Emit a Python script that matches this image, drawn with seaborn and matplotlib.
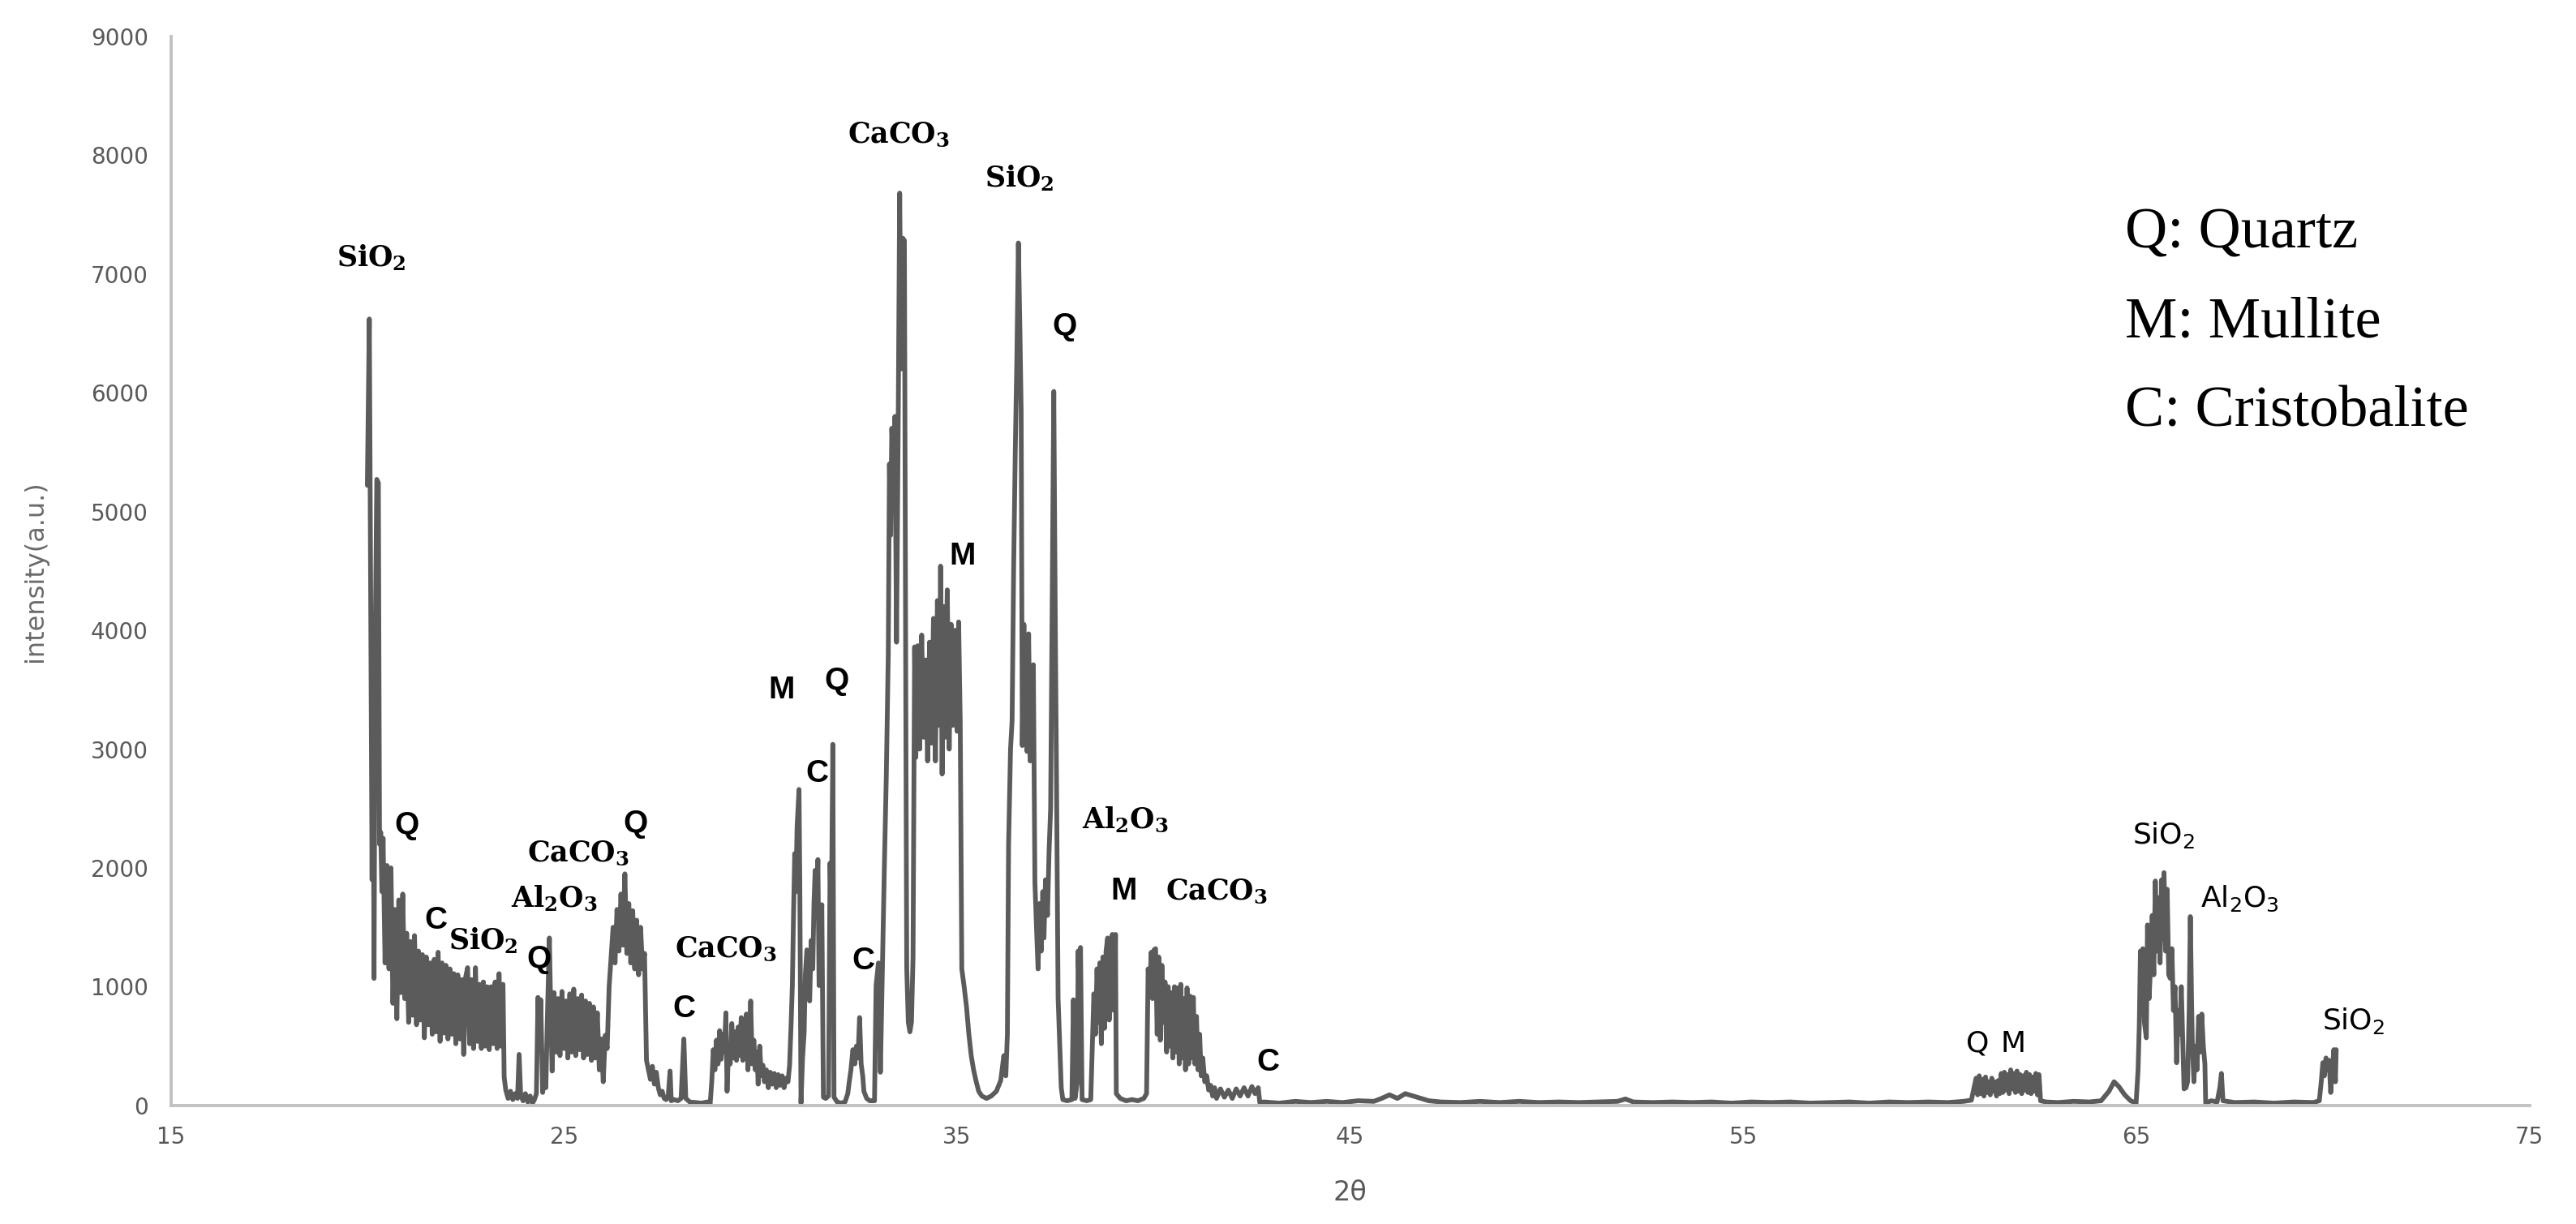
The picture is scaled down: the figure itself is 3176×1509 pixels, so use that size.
import matplotlib
matplotlib.use("Agg")
import numpy as np
import pandas as pd
import matplotlib.pyplot as plt
import seaborn as sns

# --------------------------
# data: (2theta, intensity)
# --------------------------
seg_peak20 = [(20.00, 5220), (20.05, 6620), (20.09, 4000), (20.12, 1900), (20.14, 3900), (20.17, 1070),
              (20.20, 3900), (20.24, 5270), (20.28, 5240), (20.31, 2200), (20.34, 2300), (20.37, 1800)]

seg_band21 = [(20.40, 2250), (20.45, 1200), (20.50, 2020), (20.55, 1150), (20.60, 2000), (20.65, 860),
              (20.70, 1650), (20.75, 730), (20.80, 1730), (20.85, 950), (20.90, 1780), (20.95, 900),
              (21.00, 1450), (21.05, 700), (21.10, 1380), (21.15, 760), (21.20, 1430), (21.25, 680),
              (21.30, 1300), (21.35, 720), (21.40, 1270), (21.45, 570), (21.50, 1250), (21.55, 680),
              (21.60, 1200), (21.65, 600), (21.70, 1230), (21.75, 620), (21.80, 1290), (21.85, 540),
              (21.90, 1200), (21.95, 610), (22.00, 1180), (22.05, 560), (22.10, 1150), (22.15, 600),
              (22.20, 1110), (22.25, 520), (22.30, 1100), (22.35, 560), (22.40, 1060), (22.45, 430),
              (22.50, 1080), (22.55, 1160), (22.60, 520), (22.65, 1060), (22.70, 480), (22.75, 1160),
              (22.80, 540), (22.85, 1020), (22.90, 480), (22.95, 1040), (23.00, 500), (23.05, 1000),
              (23.10, 470), (23.15, 1000), (23.20, 520), (23.25, 1040), (23.30, 480), (23.35, 1110),
              (23.40, 500), (23.45, 1020), (23.48, 240)]

seg_dip24 = [(23.52, 130), (23.58, 60), (23.64, 120), (23.70, 50), (23.76, 100), (23.82, 60), (23.86, 430),
             (23.90, 90), (23.96, 40), (24.02, 100), (24.08, 30), (24.14, 80), (24.20, 20), (24.25, 50),
             (24.30, 100), (24.34, 910), (24.38, 500), (24.41, 890), (24.46, 110), (24.50, 300),
             (24.54, 150), (24.58, 750), (24.63, 1410), (24.67, 700), (24.70, 290), (24.75, 950)]

seg_band25 = [(24.80, 450), (24.85, 900), (24.90, 420), (24.95, 960), (25.00, 480), (25.05, 880),
              (25.10, 400), (25.15, 940), (25.20, 450), (25.25, 980), (25.30, 420), (25.35, 900),
              (25.40, 470), (25.45, 930), (25.50, 400), (25.55, 880), (25.60, 430), (25.65, 860),
              (25.70, 380), (25.75, 830), (25.80, 400), (25.85, 780), (25.90, 300), (25.95, 560),
              (26.00, 200), (26.05, 590), (26.10, 480)]

seg_peak26 = [(26.15, 1000), (26.20, 1250), (26.25, 1500), (26.30, 1200), (26.35, 1650), (26.40, 1300),
              (26.45, 1780), (26.50, 1350), (26.55, 1950), (26.60, 1280), (26.65, 1700), (26.70, 1200),
              (26.75, 1640), (26.80, 1150), (26.85, 1560), (26.90, 1100), (26.95, 1500), (27.00, 1150),
              (27.05, 1280), (27.10, 380)]

seg_tail27 = [(27.15, 300), (27.20, 220), (27.25, 330), (27.30, 180), (27.35, 280), (27.40, 150),
              (27.45, 90), (27.50, 120), (27.55, 60), (27.60, 50), (27.65, 70), (27.70, 290), (27.73, 40),
              (27.80, 50), (27.90, 40), (27.98, 60), (28.05, 560), (28.10, 60), (28.20, 30), (28.35, 25),
              (28.50, 20), (28.65, 30), (28.72, 15)]

seg_band29 = [(28.76, 200), (28.80, 470), (28.84, 300), (28.88, 550), (28.92, 350), (28.96, 630),
              (29.00, 390), (29.04, 600), (29.08, 450), (29.12, 780), (29.15, 120), (29.19, 500),
              (29.23, 350), (29.27, 690), (29.31, 400), (29.35, 620), (29.39, 380), (29.43, 660),
              (29.47, 420), (29.51, 740), (29.55, 380), (29.59, 600), (29.64, 770), (29.68, 300),
              (29.72, 600), (29.75, 880), (29.79, 350), (29.83, 550), (29.87, 300), (29.91, 450),
              (29.94, 180), (29.98, 500), (30.02, 250), (30.06, 340), (30.10, 200), (30.15, 300),
              (30.20, 150), (30.25, 280), (30.30, 180), (30.35, 270), (30.40, 150), (30.45, 260),
              (30.50, 170), (30.55, 250), (30.60, 150), (30.65, 230), (30.70, 200), (30.74, 340)]

seg_peaks31 = [(30.78, 700), (30.81, 1010), (30.84, 1600), (30.87, 2120), (30.90, 1800), (30.93, 2340),
               (30.98, 2660), (31.00, 1880), (31.03, 20), (31.07, 400), (31.11, 610), (31.14, 1100),
               (31.18, 1310), (31.22, 1000), (31.25, 880), (31.29, 1390), (31.33, 1150), (31.36, 1700),
               (31.39, 1980), (31.43, 1700), (31.46, 2070), (31.49, 1010), (31.53, 1400), (31.56, 1690),
               (31.60, 70), (31.66, 60), (31.73, 80), (31.77, 2040), (31.80, 1500), (31.84, 3040),
               (31.87, 70), (31.95, 30), (32.05, 20), (32.15, 30), (32.22, 100), (32.25, 180),
               (32.30, 300), (32.35, 470), (32.40, 350), (32.44, 500), (32.48, 400), (32.52, 740),
               (32.56, 350), (32.60, 250), (32.63, 120), (32.70, 60), (32.78, 40), (32.85, 40)]

seg_caco3_33 = [(32.90, 40), (32.94, 1010), (33.00, 1200), (33.05, 280), (33.10, 1150), (33.15, 2000),
                (33.20, 2770), (33.25, 3800), (33.28, 5400), (33.31, 4800), (33.34, 5700), (33.38, 5400),
                (33.42, 5800), (33.46, 3900), (33.50, 5600), (33.54, 7680), (33.58, 6200), (33.62, 7300),
                (33.66, 7280), (33.70, 3000), (33.72, 1150), (33.76, 700), (33.80, 620), (33.84, 700),
                (33.88, 1250), (33.92, 3860)]

seg_band34 = [(33.95, 2930), (34.00, 3870), (34.05, 3000), (34.10, 3960), (34.15, 3100), (34.20, 3750),
              (34.25, 2900), (34.30, 3900), (34.35, 3050), (34.40, 4100), (34.45, 2900), (34.50, 4250),
              (34.55, 3200), (34.58, 4540), (34.62, 2790), (34.66, 4200), (34.70, 3100), (34.75, 4340),
              (34.80, 3000), (34.85, 4050), (34.90, 3200), (34.95, 4000), (35.00, 3150), (35.04, 4070),
              (35.08, 3240)]

seg_sio2_36 = [(35.12, 1150), (35.18, 1000), (35.24, 830), (35.30, 600), (35.36, 420), (35.42, 300),
               (35.48, 210), (35.55, 120), (35.63, 80), (35.75, 60), (35.87, 80), (36.00, 120),
               (36.11, 210), (36.19, 420), (36.24, 250), (36.28, 600), (36.31, 2190), (36.36, 3000),
               (36.40, 3240), (36.44, 4540), (36.48, 5500), (36.52, 6270), (36.56, 7260), (36.60, 6500),
               (36.63, 5850), (36.66, 3030), (36.70, 4050), (36.74, 3200), (36.78, 2980), (36.82, 3970),
               (36.86, 2900), (36.90, 3600), (36.94, 3710), (36.98, 1880), (37.02, 1500), (37.06, 1150),
               (37.10, 1700), (37.14, 1300), (37.18, 1800), (37.21, 1410), (37.25, 1900), (37.30, 1600),
               (37.34, 2140), (37.38, 2500), (37.42, 4280), (37.46, 6010), (37.50, 4000), (37.53, 2720),
               (37.57, 900), (37.60, 620), (37.65, 150), (37.69, 50)]

seg_m38 = [(37.80, 40), (37.92, 50), (37.96, 890), (38.00, 60), (38.06, 200), (38.08, 1300), (38.11, 900),
           (38.14, 1330), (38.18, 50), (38.30, 40), (38.40, 50), (38.44, 500), (38.48, 940), (38.52, 600),
           (38.56, 1150), (38.60, 700), (38.63, 1200), (38.67, 520), (38.71, 1250), (38.75, 650),
           (38.79, 1300), (38.83, 1410), (38.87, 720), (38.91, 1380), (38.95, 1440), (38.99, 800),
           (39.03, 1440), (39.05, 100), (39.15, 60), (39.30, 40), (39.45, 50), (39.60, 40), (39.75, 60),
           (39.82, 100)]

seg_caco3_40 = [(39.86, 1150), (39.90, 1000), (39.94, 1290), (39.97, 900), (40.01, 1310), (40.05, 1320),
                (40.09, 600), (40.13, 1250), (40.17, 550), (40.21, 1180), (40.25, 700), (40.29, 1040),
                (40.33, 450), (40.37, 1000), (40.41, 500), (40.45, 950), (40.49, 400), (40.53, 1000),
                (40.57, 450), (40.61, 990), (40.65, 350), (40.69, 1020), (40.73, 400), (40.77, 900),
                (40.81, 300), (40.85, 990), (40.89, 350), (40.93, 920), (40.97, 400), (41.01, 910),
                (41.05, 350), (41.09, 750), (41.13, 300), (41.17, 600), (41.21, 250), (41.25, 400),
                (41.30, 200), (41.35, 250), (41.40, 130), (41.45, 170), (41.50, 80), (41.55, 150),
                (41.60, 60), (41.70, 140), (41.80, 70), (41.90, 130), (42.00, 60), (42.10, 140),
                (42.20, 80), (42.30, 150), (42.40, 80), (42.50, 160), (42.58, 100), (42.66, 150),
                (42.70, 25)]

seg_flat = [(42.80, 30), (43.20, 20), (43.60, 35), (44.00, 25), (44.40, 35), (44.80, 25), (45.20, 40),
            (45.60, 35), (45.80, 60), (46.00, 90), (46.20, 60), (46.40, 100), (46.60, 80), (46.80, 60),
            (47.00, 40), (47.30, 30), (47.80, 25), (48.30, 35), (48.80, 25), (49.30, 35), (49.80, 25),
            (50.30, 30), (50.80, 25), (51.30, 30), (51.80, 35), (52.00, 55), (52.20, 30), (52.70, 25),
            (53.20, 30), (53.70, 25), (54.20, 30), (54.70, 20), (55.20, 30), (55.70, 25), (56.20, 30),
            (56.70, 20), (57.20, 25), (57.70, 30), (58.20, 20), (58.70, 30), (59.20, 25), (59.70, 30),
            (60.20, 25), (60.60, 35), (60.80, 45)]

seg_qm61 = [(60.92, 230), (60.96, 90), (61.00, 250), (61.04, 100), (61.08, 220), (61.12, 80), (61.16, 240),
            (61.20, 110), (61.24, 200), (61.28, 90), (61.32, 230), (61.36, 120), (61.40, 200), (61.44, 80),
            (61.48, 210), (61.52, 100), (61.56, 270), (61.60, 110), (61.64, 280), (61.68, 130),
            (61.72, 260), (61.76, 100), (61.80, 300), (61.84, 140), (61.88, 270), (61.92, 110),
            (61.96, 290), (62.00, 120), (62.04, 260), (62.08, 100), (62.12, 250), (62.16, 130),
            (62.20, 280), (62.24, 110), (62.28, 260), (62.32, 100), (62.36, 240), (62.40, 120),
            (62.44, 270), (62.48, 90), (62.52, 260), (62.56, 40)]

seg_sio2_65 = [(62.70, 30), (63.00, 25), (63.40, 35), (63.80, 30), (64.10, 40), (64.30, 120), (64.43, 200),
               (64.55, 160), (64.70, 90), (64.85, 40), (64.99, 20), (65.04, 300), (65.07, 660),
               (65.10, 1300), (65.13, 900), (65.16, 1320), (65.20, 700), (65.25, 570), (65.28, 1520),
               (65.32, 900), (65.36, 1180), (65.40, 1600), (65.44, 1100), (65.48, 1890), (65.52, 1300),
               (65.56, 1750), (65.60, 1200), (65.64, 1900), (65.68, 1400), (65.70, 1960), (65.74, 1300),
               (65.78, 1820), (65.82, 1100), (65.86, 1070), (65.90, 1320), (65.94, 800), (65.98, 1000),
               (66.02, 360), (66.06, 800), (66.10, 600), (66.14, 1000), (66.18, 500), (66.21, 140),
               (66.26, 150), (66.30, 200), (66.34, 800), (66.37, 1590), (66.40, 900), (66.42, 540),
               (66.46, 200), (66.50, 500), (66.54, 300), (66.58, 750), (66.62, 450), (66.66, 770),
               (66.70, 500), (66.74, 350), (66.76, 20), (66.90, 40), (67.05, 30), (67.12, 150),
               (67.16, 270), (67.20, 40)]

seg_sio2_70 = [(67.50, 25), (68.00, 30), (68.50, 20), (69.00, 30), (69.50, 25), (69.65, 40), (69.70, 200),
               (69.74, 360), (69.78, 250), (69.82, 400), (69.86, 300), (69.90, 380), (69.94, 110),
               (69.98, 300), (70.02, 470), (70.06, 200), (70.08, 470)]

segments = [seg_peak20, seg_band21, seg_dip24, seg_band25, seg_peak26, seg_tail27, seg_band29,
            seg_peaks31, seg_caco3_33, seg_band34, seg_sio2_36, seg_m38, seg_caco3_40, seg_flat,
            seg_qm61, seg_sio2_65, seg_sio2_70]
pairs = [p for seg in segments for p in seg]
df = pd.DataFrame(pairs, columns=["two_theta", "intensity"])

# peak labels
bold_serif_labels = [r"SiO$_\mathbf{2}$", r"SiO$_\mathbf{2}$", r"Al$_\mathbf{2}$O$_\mathbf{3}$",
                     r"CaCO$_\mathbf{3}$", r"CaCO$_\mathbf{3}$", r"CaCO$_\mathbf{3}$", r"SiO$_\mathbf{2}$",
                     r"Al$_\mathbf{2}$O$_\mathbf{3}$", r"CaCO$_\mathbf{3}$"]
bold_serif_x = [20.11, 22.94, 24.76, 25.36, 29.11, 33.51, 36.58, 39.27, 41.60]
bold_serif_y = [7137, 1391, 1741, 2116, 1316, 8171, 7808, 2402, 1801]

letter_labels = ["Q", "C", "Q", "Q", "C", "M", "Q", "C", "C", "M", "Q", "M", "C"]
letter_x = [21.00, 21.74, 24.37, 26.83, 28.06, 30.54, 31.94, 31.43, 32.61, 35.14, 37.73, 39.24, 42.90]
letter_y = [2352, 1556, 1230, 2367, 815, 3493, 3568, 2792, 1215, 4622, 6555, 1801, 364]

plain_labels = ["Q", "M", r"SiO$_2$", r"Al$_2$O$_3$", r"SiO$_2$"]
plain_x = [60.96, 61.87, 65.70, 67.62, 70.51]
plain_y = [521, 521, 2274, 1739, 715]

key_lines = ["Q: Quartz", "M: Mullite", "C: Cristobalite"]
key_y = [0.8023, 0.7189, 0.6355]

# --------------------------
# plot
# --------------------------
sns.set_theme(style="white")
plt.rcParams['font.family'] = ['DejaVu Sans']

fig = plt.figure(figsize=(15.88, 7.545), dpi=200)
ax = fig.add_axes([0.0663, 0.0968, 0.9157, 0.8736])

sns.lineplot(data=df, x="two_theta", y="intensity", ax=ax, color="#5b5b5b",
             linewidth=2.1, estimator=None, sort=False)

ax.set_xlim(15, 75)
ax.set_ylim(0, 9000)
ax.set_xticks(range(15, 76, 10))
ax.set_yticks(range(0, 9001, 1000))
for s in ["top", "right"]:
    ax.spines[s].set_visible(False)
for s in ["left", "bottom"]:
    ax.spines[s].set_color("#c2c2c2")
    ax.spines[s].set_linewidth(1.4)
ax.tick_params(axis="both", length=0, labelsize=10, labelcolor="#595959")
ax.tick_params(axis="y", pad=10)
ax.tick_params(axis="x", pad=9)

ax.set_xlabel("2θ", fontsize=12, color="#595959")
ax.set_ylabel("intensity(a.u.)", fontsize=11.5, color="#6a6a6a")
ax.xaxis.set_label_coords(0.5, -0.069)
ax.yaxis.set_label_coords(-0.052, 0.5)

for t, x, y in zip(bold_serif_labels, bold_serif_x, bold_serif_y):
    ax.text(x, y, t, ha="center", va="center", fontsize=12.5, fontweight="bold",
            family=["DejaVu Serif"], math_fontfamily="dejavuserif", color="black")
for t, x, y in zip(letter_labels, letter_x, letter_y):
    ax.text(x, y, t, ha="center", va="center", fontsize=14, fontweight="bold",
            family=["Liberation Sans", "DejaVu Sans"], color="black")
for t, x, y in zip(plain_labels, plain_x, plain_y):
    ax.text(x, y, t, ha="center", va="center", fontsize=13,
            family=["DejaVu Sans"], math_fontfamily="dejavusans", color="black")

for line, y in zip(key_lines, key_y):
    ax.text(0.8284, y, line, transform=ax.transAxes, ha="left", va="baseline", fontsize=26,
            family=["Liberation Serif", "DejaVu Serif"], color="black")

fig.savefig("out.png", dpi=200)
